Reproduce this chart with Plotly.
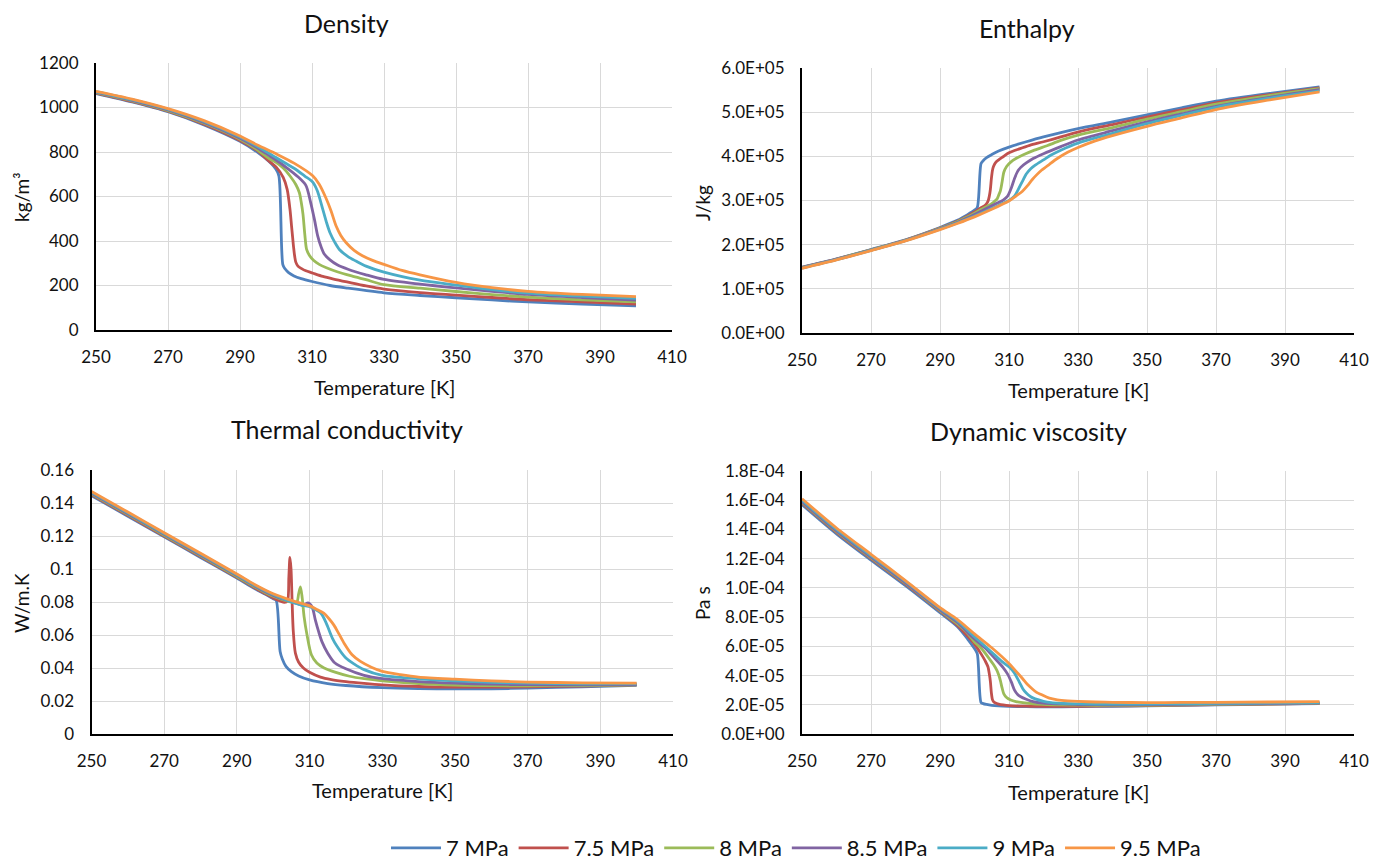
import plotly.graph_objects as go

# ---------------- data ----------------
series_names = ["7 MPa", "7.5 MPa", "8 MPa", "8.5 MPa", "9 MPa", "9.5 MPa"]
series_colors = ["#4F81BD", "#C0504D", "#9BBB59", "#8064A2", "#4BACC6", "#F79646"]

# Temperature [K]
T_7 = [250, 260, 270, 280, 290, 295, 298, 300, 300.8, 301.9, 302.5, 303.5, 305, 307, 310, 315, 320, 330, 340, 350, 360, 370, 385, 400]
T_75 = [250, 260, 270, 280, 290, 295, 298, 300, 302, 303.1, 303.9, 304.3, 304.6, 304.9, 305.2, 305.5, 306.1, 307, 308.3, 310, 313, 316, 320, 325, 330, 340, 350, 360, 370, 385, 400]
T_8 = [250, 260, 270, 280, 290, 295, 298, 300, 302, 304, 305.5, 306.5, 307.0, 307.5, 308.0, 308.5, 309.3, 310.5, 312, 314, 317, 321, 325, 330, 340, 350, 360, 370, 385, 400]
T_85 = [250, 260, 270, 280, 290, 295, 298, 300, 303, 306, 308.3, 309.6, 310.7, 311.6, 312.5, 313.4, 315, 317, 320, 325, 330, 340, 350, 360, 370, 385, 400]
T_9 = [250, 260, 270, 280, 290, 295, 300, 305, 308, 310.2, 311.5, 313, 314, 315, 316.3, 317.6, 320, 322.2, 325, 330, 340, 350, 360, 370, 385, 400]
T_95 = [250, 260, 270, 280, 290, 295, 300, 305, 310.2, 312, 313.9, 315.3, 316.7, 318, 319.5, 321.7, 324, 327, 330, 335, 340, 350, 360, 370, 385, 400]

# Density [kg/m3]
rho_7 = [1063, 1025, 981, 922, 848, 797, 758, 722, 693, 294, 275, 258, 243, 231, 218, 200, 188, 167, 155, 145, 135, 126, 116, 108]
rho_75 = [1065, 1027, 983, 925, 852, 804, 760, 733, 686, 632, 540, 470, 420, 370, 330, 305, 287, 277, 266, 257, 241, 229, 215, 198, 184, 168, 157, 146, 136, 126, 116]
rho_8 = [1067, 1030, 986, 929, 857, 808, 772, 753, 728, 690, 654, 617, 575, 520, 430, 362, 335, 312, 295, 280, 262, 243, 226, 204, 188, 173, 159, 148, 136, 126]
rho_85 = [1069, 1032, 989, 933, 862, 817, 785, 764, 729, 690, 650, 575, 495, 422, 375, 342, 315, 293, 273, 248, 227, 206, 189, 174, 160, 146, 134]
rho_9 = [1071, 1035, 992, 937, 867, 824, 775, 727, 692, 665, 625, 542, 485, 437, 395, 362, 330, 310, 287, 260, 224, 202, 181, 166, 152, 142]
rho_95 = [1073, 1038, 995, 941, 872, 830, 792, 750, 693, 655, 592, 535, 467, 425, 392, 358, 334, 312, 295, 268, 248, 214, 190, 174, 160, 150]

# Enthalpy [kJ/kg]
h_7 = [149, 168, 189, 211, 239, 255, 268, 278, 284, 384, 390, 397, 404, 412, 421, 433, 444, 463, 478, 494, 510, 525, 542, 557]
h_75 = [148.5, 167.5, 188.5, 210.5, 237.5, 253, 265, 274, 284, 289, 298, 310, 325, 350, 368, 377, 386, 392, 399, 408, 417, 425, 433, 444, 455, 472, 489, 505, 521, 539, 555]
h_8 = [148, 167, 188, 210, 237, 252, 263, 271, 280, 288, 296, 303, 312, 322, 342, 364, 377, 387, 395, 403, 413, 424, 436, 448, 465, 484, 501, 518, 537, 553]
h_85 = [147.5, 166.5, 187.5, 209.5, 236, 250, 261, 268, 280, 292, 301, 310, 329, 350, 366, 375, 385, 395, 406, 422, 437, 458, 478, 496, 513, 533, 551]
h_9 = [147, 166, 187, 209, 235, 249, 265, 282, 293, 301, 309, 330, 345, 360, 372, 380, 392, 403, 414, 430, 452, 474, 493, 511, 531, 548]
h_95 = [146.5, 165.5, 186.5, 208.5, 234, 248, 263, 280, 300, 310, 321, 333, 347, 358, 369, 382, 395, 409, 420, 435, 447, 468, 487, 506, 527, 546]

# Thermal conductivity [W/m.K]
k_7 = [0.1445, 0.132, 0.1195, 0.107, 0.0945, 0.088, 0.0845, 0.082, 0.081, 0.050, 0.0455, 0.041, 0.0378, 0.0352, 0.0328, 0.0306, 0.0294, 0.0281, 0.0275, 0.0273, 0.0274, 0.0278, 0.0286, 0.0295]
k_75 = [0.145, 0.1325, 0.120, 0.1075, 0.095, 0.0885, 0.0848, 0.0825, 0.0805, 0.0798, 0.0805, 0.095, 0.107, 0.100, 0.080, 0.063, 0.049, 0.0435, 0.040, 0.0374, 0.0345, 0.0330, 0.0318, 0.0307, 0.0298, 0.0288, 0.0284, 0.0284, 0.0286, 0.0291, 0.0298]
k_8 = [0.1455, 0.133, 0.1205, 0.108, 0.0955, 0.089, 0.0855, 0.0835, 0.0818, 0.0805, 0.0798, 0.080, 0.085, 0.0892, 0.082, 0.071, 0.060, 0.048, 0.043, 0.040, 0.0375, 0.035, 0.0335, 0.0322, 0.0305, 0.0296, 0.0293, 0.0292, 0.0294, 0.0298]
k_85 = [0.146, 0.1335, 0.121, 0.1085, 0.096, 0.0895, 0.086, 0.084, 0.0815, 0.0795, 0.078, 0.0795, 0.077, 0.069, 0.062, 0.056, 0.049, 0.043, 0.0395, 0.0355, 0.0335, 0.0318, 0.0308, 0.0302, 0.0299, 0.0298, 0.0300]
k_9 = [0.1465, 0.134, 0.1215, 0.109, 0.0965, 0.090, 0.0845, 0.080, 0.078, 0.077, 0.0755, 0.0735, 0.070, 0.065, 0.058, 0.053, 0.046, 0.0425, 0.0390, 0.0355, 0.0335, 0.0322, 0.0313, 0.0308, 0.0304, 0.0304]
k_95 = [0.147, 0.1345, 0.122, 0.1095, 0.097, 0.0905, 0.085, 0.081, 0.0775, 0.0755, 0.0732, 0.070, 0.066, 0.061, 0.055, 0.048, 0.044, 0.0405, 0.038, 0.0360, 0.0345, 0.0332, 0.0322, 0.0315, 0.0310, 0.0308]

# Dynamic viscosity [micro Pa s]
mu_7 = [157, 137, 119, 101.5, 83, 73.5, 65, 58.5, 55, 21.6, 20.8, 20.2, 19.6, 19.2, 18.9, 18.7, 18.6, 18.7, 19.0, 19.3, 19.6, 19.9, 20.4, 20.8]
mu_75 = [158, 138, 120, 102.5, 84, 74.5, 67, 61.5, 54.5, 50, 46, 41, 36, 28, 23.5, 22.2, 21.2, 20.5, 19.9, 19.4, 19.1, 19.0, 18.9, 18.9, 19.0, 19.2, 19.5, 19.8, 20.1, 20.5, 20.9]
mu_8 = [158.5, 138.5, 120.5, 103, 84.5, 75.5, 69, 63, 58.5, 52.5, 47.5, 43.5, 40.5, 36.5, 31.5, 27.5, 25.0, 23.3, 22.2, 21.4, 20.7, 20.2, 19.9, 19.7, 19.6, 19.7, 19.9, 20.2, 20.6, 21.0]
mu_85 = [159, 139, 121, 103.5, 85, 76.5, 69.5, 65, 59, 51.5, 45.5, 41, 35.5, 30, 27, 25.5, 23.8, 22.2, 21.1, 20.6, 20.2, 20.0, 20.1, 20.3, 20.5, 20.8, 21.2]
mu_9 = [160, 140, 122, 104.5, 86, 77.5, 66.5, 56, 49.5, 45.5, 42, 35.5, 31, 28, 25.5, 24, 22.4, 21.5, 21.0, 20.6, 20.4, 20.5, 20.7, 20.9, 21.2, 21.5]
mu_95 = [161, 141, 123, 105, 86.5, 78.5, 68.5, 59, 47.8, 43, 38, 34, 31, 28.5, 26.8, 24.5, 23.4, 22.7, 22.3, 21.9, 21.7, 21.5, 21.6, 21.7, 21.9, 22.1]

# tick labels
T_ticks = [250, 270, 290, 310, 330, 350, 370, 390, 410]
rho_ticks = [0, 200, 400, 600, 800, 1000, 1200]
rho_ticktext = ["0", "200", "400", "600", "800", "1000", "1200"]
h_ticks = [0, 1e5, 2e5, 3e5, 4e5, 5e5, 6e5]
h_ticktext = ["0.0E+00", "1.0E+05", "2.0E+05", "3.0E+05", "4.0E+05", "5.0E+05", "6.0E+05"]
k_ticks = [0, 0.02, 0.04, 0.06, 0.08, 0.10, 0.12, 0.14, 0.16]
k_ticktext = ["0", "0.02", "0.04", "0.06", "0.08", "0.1", "0.12", "0.14", "0.16"]
mu_ticks = [0, 2e-5, 4e-5, 6e-5, 8e-5, 1e-4, 1.2e-4, 1.4e-4, 1.6e-4, 1.8e-4]
mu_ticktext = ["0.0E+00", "2.0E-05", "4.0E-05", "6.0E-05", "8.0E-05", "1.0E-04", "1.2E-04", "1.4E-04", "1.6E-04", "1.8E-04"]

T_all = [T_7, T_75, T_8, T_85, T_9, T_95]
rho_all = [rho_7, rho_75, rho_8, rho_85, rho_9, rho_95]
h_all = [h_7, h_75, h_8, h_85, h_9, h_95]
k_all = [k_7, k_75, k_8, k_85, k_9, k_95]
mu_all = [mu_7, mu_75, mu_8, mu_85, mu_9, mu_95]

# ---------------- figure ----------------
W, H = 1389, 861
FONT = "Lato, 'Open Sans', sans-serif"
TXT = "#111111"


def fx(p):
    return p / W


def fy(p):
    return 1 - p / H


fig = go.Figure()

panels = [
    ("x", "y", rho_all, 1.0),
    ("x2", "y2", h_all, 1000.0),
    ("x3", "y3", k_all, 1.0),
    ("x4", "y4", mu_all, 1e-6),
]

for pi, (xa, ya, data, scale) in enumerate(panels):
    for si in range(6):
        fig.add_trace(go.Scatter(
            x=T_all[si],
            y=[v * scale for v in data[si]],
            mode="lines",
            name=series_names[si],
            legendgroup=series_names[si],
            showlegend=(pi == 0),
            line=dict(color=series_colors[si], width=2.8, shape="spline", smoothing=0.8),
            xaxis=xa, yaxis=ya,
        ))

grid = "#d9d9d9"
xcommon = dict(range=[250, 410], tickmode="array", tickvals=T_ticks,
               showgrid=True, gridcolor=grid, gridwidth=1.3,
               showline=True, linecolor="black", linewidth=2.2,
               zeroline=False, ticks="", ticklabelstandoff=10,
               tickfont=dict(family=FONT, size=17, color=TXT), fixedrange=True)
ycommon = dict(showgrid=True, gridcolor=grid, gridwidth=1.3,
               showline=True, linecolor="black", linewidth=2.2,
               zeroline=False, ticks="", ticklabelstandoff=12,
               tickfont=dict(family=FONT, size=17, color=TXT), fixedrange=True)

# pixel boxes of the four plot areas: (left, right, top, bottom)
boxes = [(96, 672, 63, 330), (802, 1354, 68, 333), (91.5, 673, 470, 734), (802, 1354, 471, 734)]
yranges = [[0, 1200], [0, 6e5], [0, 0.16], [0, 1.8e-4]]
yticks = [(rho_ticks, rho_ticktext), (h_ticks, h_ticktext), (k_ticks, k_ticktext), (mu_ticks, mu_ticktext)]

layout_axes = {}
for i, (l, r, t, b) in enumerate(boxes):
    sfx = "" if i == 0 else str(i + 1)
    layout_axes["xaxis" + sfx] = dict(xcommon, domain=[fx(l), fx(r)], anchor="y" + sfx)
    layout_axes["yaxis" + sfx] = dict(ycommon, domain=[fy(b), fy(t)], anchor="x" + sfx,
                                      range=yranges[i], tickmode="array",
                                      tickvals=yticks[i][0], ticktext=yticks[i][1])

fig.update_layout(**layout_axes)

annotations = []
titles = [("Density", 346, 23), ("Enthalpy", 1027, 28),
          ("Thermal conductivity", 347, 429), ("Dynamic viscosity", 1028, 431)]
for txt, x, y in titles:
    annotations.append(dict(text=txt, x=fx(x), y=fy(y), xref="paper", yref="paper",
                            showarrow=False, xanchor="center", yanchor="middle",
                            font=dict(family=FONT, size=25, color=TXT)))
xtitles = [(384, 387), (1078, 390), (382, 790), (1078, 792)]
for x, y in xtitles:
    annotations.append(dict(text="Temperature [K]", x=fx(x), y=fy(y), xref="paper", yref="paper",
                            showarrow=False, xanchor="center", yanchor="middle",
                            font=dict(family=FONT, size=20, color=TXT)))
ytitles = [("kg/m³", 21, 197), ("J/kg", 702, 203), ("W/m.K", 21, 603), ("Pa s", 702, 603)]
for txt, x, y in ytitles:
    annotations.append(dict(text=txt, x=fx(x), y=fy(y), xref="paper", yref="paper",
                            showarrow=False, xanchor="center", yanchor="middle", textangle=-90,
                            font=dict(family=FONT, size=19, color=TXT)))

fig.update_layout(
    width=W, height=H,
    margin=dict(l=0, r=0, t=0, b=0, autoexpand=False),
    paper_bgcolor="white", plot_bgcolor="white",
    font=dict(family=FONT, color=TXT),
    annotations=annotations,
    showlegend=True,
    legend=dict(orientation="h", x=fx(796), xanchor="center", y=fy(848), yanchor="middle",
                font=dict(family=FONT, size=22, color=TXT), itemwidth=50,
                bgcolor="rgba(0,0,0,0)", traceorder="normal"),
)

fig.write_html("out.html", config={"displayModeBar": False},
               post_script="document.body.style.margin='0px';document.body.style.overflow='hidden';")
